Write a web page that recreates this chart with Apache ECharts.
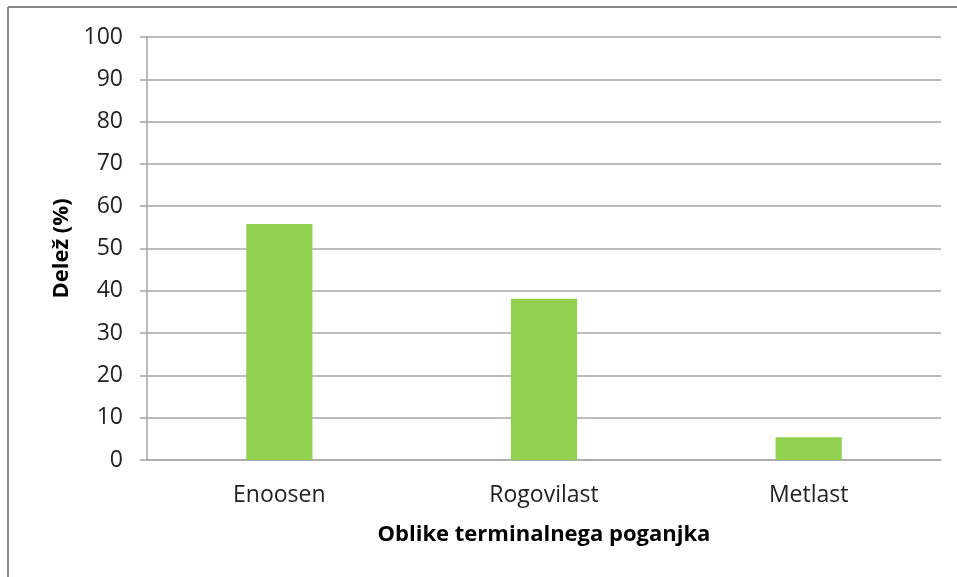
<!DOCTYPE html>
<html>
<head>
<meta charset="utf-8">
<script src="https://cdn.jsdelivr.net/npm/echarts@6/dist/echarts.min.js"></script>
<style>
  html, body { margin: 0; padding: 0; background: #fff; }
  #chart { width: 957px; height: 577px; }
</style>
</head>
<body>
<div id="chart"></div>
<script>
// podatki
var kategorije = ['Enoosen', 'Rogovilast', 'Metlast'];
var delez = [55.8, 38.1, 5.4];
var yTicks = [0, 100, 10];  // min, max, interval

var myChart = echarts.init(document.getElementById('chart'));
var font = '"Open Sans", "Noto Sans", sans-serif';
var gridColor = '#a6a6a6';

var option = {
    backgroundColor: '#fff',
    animation: false,
    graphic: [
        // okvir grafa (zgoraj in levo)
        { type: 'line', shape: { x1: 8, y1: 7, x2: 957, y2: 7 }, style: { stroke: '#888', lineWidth: 2 } },
        { type: 'line', shape: { x1: 8, y1: 7, x2: 8, y2: 577 }, style: { stroke: '#888', lineWidth: 2 } }
    ],
    grid: { left: 147, right: 16, top: 37, bottom: 117 },
    xAxis: {
        type: 'category',
        data: kategorije,
        name: 'Oblike terminalnega poganjka',
        nameLocation: 'middle',
        nameGap: 64,
        nameTextStyle: { fontFamily: font, fontSize: 22, fontWeight: 'bold', color: '#000' },
        axisLine: { lineStyle: { color: gridColor, width: 1.5 } },
        axisTick: { show: false },
        axisLabel: { fontFamily: font, fontSize: 23, color: '#222', margin: 24 }
    },
    yAxis: {
        type: 'value',
        min: yTicks[0],
        max: yTicks[1],
        interval: yTicks[2],
        name: 'Delež (%)',
        nameLocation: 'middle',
        nameGap: 74,
        nameTextStyle: { fontFamily: font, fontSize: 22, fontWeight: 'bold', color: '#000' },
        axisLine: { show: true, lineStyle: { color: gridColor, width: 1.5 } },
        axisTick: { show: true, length: 7, lineStyle: { color: gridColor, width: 1.5 } },
        axisLabel: { fontFamily: font, fontSize: 23, color: '#222', margin: 24 },
        splitLine: { lineStyle: { color: gridColor, width: 1.5 } }
    },
    series: [{
        type: 'bar',
        data: delez,
        barWidth: '25%',
        itemStyle: { color: '#92d050' }
    }]
};
myChart.setOption(option);
</script>
</body>
</html>
